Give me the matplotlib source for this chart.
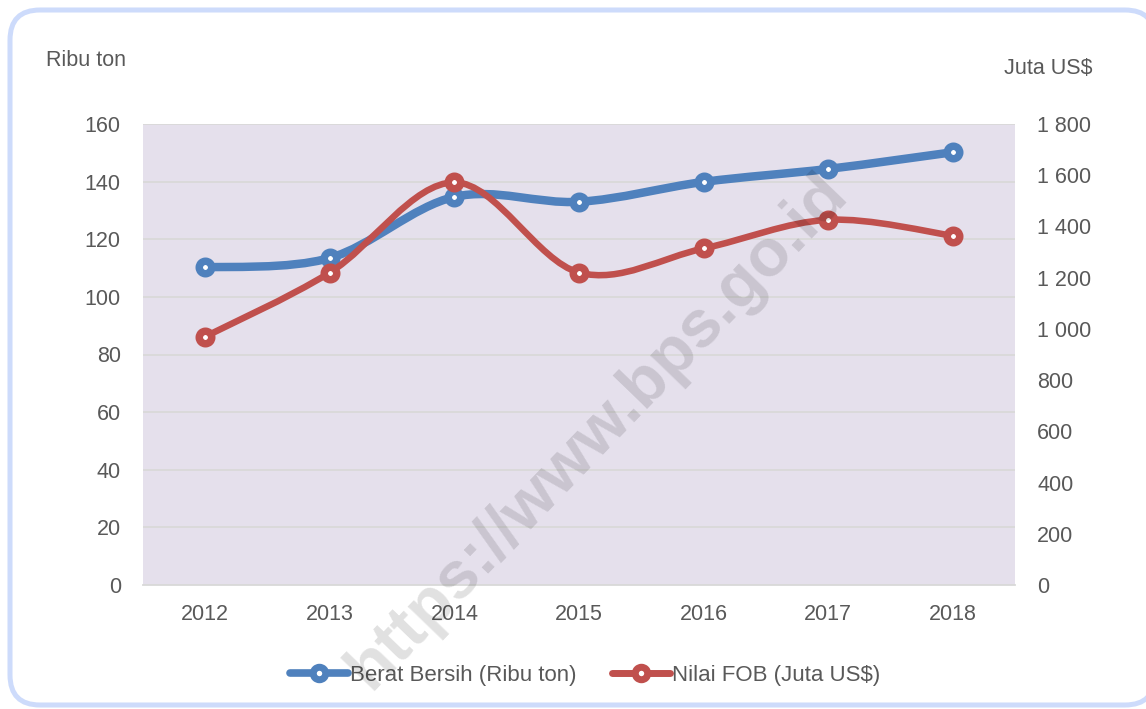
import matplotlib
matplotlib.use("Agg")
import matplotlib.pyplot as plt
import numpy as np
from matplotlib.path import Path
from matplotlib.patches import PathPatch, FancyBboxPatch
from matplotlib.lines import Line2D
from matplotlib.transforms import IdentityTransform
from matplotlib.ticker import FuncFormatter, MultipleLocator

# ---- data ----
years = ["2012", "2013", "2014", "2015", "2016", "2017", "2018"]
berat_bersih = [110.2, 113.5, 134.7, 133.0, 139.9, 144.4, 150.2]      # Ribu ton
nilai_fob = [970, 1220, 1572, 1220, 1314, 1426, 1364]                 # Juta US$
label_berat = "Berat Bersih (Ribu ton)"
label_fob = "Nilai FOB (Juta US$)"
left_title = "Ribu ton"
right_title = "Juta US$"
watermark = "https://www.bps.go.id"

BLUE = "#4f81bd"
RED = "#c0504d"
TXT = "#595959"
FONT = "Liberation Sans"
FS = 15.5

plt.rcParams["font.family"] = [FONT, "DejaVu Sans"]


def smooth_path(xs, ys):
    """Excel-like smoothed line: cubic Bezier with Catmull-Rom control points."""
    pts = np.column_stack([xs, ys]).astype(float)
    n = len(pts)
    verts = [pts[0]]
    codes = [Path.MOVETO]
    for i in range(n - 1):
        p0 = pts[i - 1] if i > 0 else pts[i]
        p1 = pts[i]
        p2 = pts[i + 1]
        p3 = pts[i + 2] if i + 2 < n else pts[i + 1]
        c1 = p1 + (p2 - p0) / 6.0
        c2 = p2 - (p3 - p1) / 6.0
        verts += [c1, c2, p2]
        codes += [Path.CURVE4] * 3
    return Path(verts, codes)


fig = plt.figure(figsize=(11.46, 7.09), dpi=100)
fig.patch.set_facecolor("white")

# rounded border (right edge runs just off the canvas); filled white so it is not path-clipped
border = FancyBboxPatch((10, 4), 1145, 695, boxstyle="round,pad=0,rounding_size=30",
                        transform=IdentityTransform(), facecolor="white",
                        edgecolor="#cddbfb", linewidth=3.6, zorder=-5)
fig.patches.append(border)

ax = fig.add_axes([143 / 1146, 1 - 585 / 709, (1015 - 143) / 1146, (585 - 124) / 709])
ax.set_facecolor("#e5e0ec")
x = np.arange(len(years))

ax.set_xlim(-0.5, len(years) - 0.5)
ax.set_ylim(0, 160)
ax.yaxis.set_major_locator(MultipleLocator(20))
ax.grid(axis="y", color="#d9d9d9", linewidth=1.3)
ax.set_axisbelow(True)
for s in ["top", "right", "left"]:
    ax.spines[s].set_visible(False)
ax.spines["bottom"].set_color("#d9d9d9")
ax.spines["bottom"].set_linewidth(1.3)
ax.set_xticks(x)
ax.set_xticklabels(years)
ax.tick_params(axis="both", length=0, labelsize=FS, labelcolor=TXT)
ax.tick_params(axis="x", pad=14)
ax.tick_params(axis="y", pad=16)

ax2 = ax.twinx()
ax2.set_ylim(0, 1800)
ax2.yaxis.set_major_locator(MultipleLocator(200))
ax2.yaxis.set_major_formatter(FuncFormatter(lambda v, p: f"{int(v):,}".replace(",", " ")))
for s in ax2.spines.values():
    s.set_visible(False)
ax2.tick_params(axis="y", length=0, labelsize=FS, labelcolor=TXT, pad=16)
ax2.patch.set_visible(False)

for lab in ax.get_xticklabels() + ax.get_yticklabels() + ax2.get_yticklabels():
    lab.set_fontfamily(FONT)

# blue series (primary axis)
ax.add_patch(PathPatch(smooth_path(x, berat_bersih), facecolor="none", edgecolor=BLUE,
                       linewidth=6.1, capstyle="round", joinstyle="round", zorder=3))
ax.plot(x, berat_bersih, linestyle="none", marker="o", markersize=9, markeredgewidth=5.4,
        markeredgecolor=BLUE, markerfacecolor="white", zorder=4, clip_on=False)

# red series (secondary axis)
ax2.add_patch(PathPatch(smooth_path(x, nilai_fob), facecolor="none", edgecolor=RED,
                        linewidth=4.7, capstyle="round", joinstyle="round", zorder=3))
ax2.plot(x, nilai_fob, linestyle="none", marker="o", markersize=9, markeredgewidth=5.4,
         markeredgecolor=RED, markerfacecolor="white", zorder=4, clip_on=False)

# axis titles
fig.text(46 / 1146, 1 - 61 / 709, left_title, fontsize=FS, color=TXT, ha="left", va="center",
         fontfamily=FONT)
fig.text(1092 / 1146, 1 - 68 / 709, right_title, fontsize=FS, color=TXT, ha="right", va="center",
         fontfamily=FONT)

# legend
handles = [
    Line2D([0], [0], color=BLUE, linewidth=5.5, marker="o", markersize=9, markeredgewidth=5.0,
           markeredgecolor=BLUE, markerfacecolor="white", solid_capstyle="round"),
    Line2D([0], [0], color=RED, linewidth=5.0, marker="o", markersize=9, markeredgewidth=5.0,
           markeredgecolor=RED, markerfacecolor="white", solid_capstyle="round"),
]
fig.legend(handles, [label_berat, label_fob], loc="center", bbox_to_anchor=(585 / 1146, 1 - 675 / 709),
           ncol=2, frameon=False, handlelength=2.6, handletextpad=0.1, columnspacing=1.6,
           prop={"family": FONT, "size": FS + 0.5}, labelcolor=TXT)

# watermark
fig.text(598 / 1146, 1 - 432 / 709, watermark, fontsize=48, fontweight="bold", color="black",
         alpha=0.12, rotation=46, ha="center", va="center", rotation_mode="anchor",
         fontfamily=FONT, zorder=10)

fig.savefig("out.png", dpi=100, facecolor="white")
